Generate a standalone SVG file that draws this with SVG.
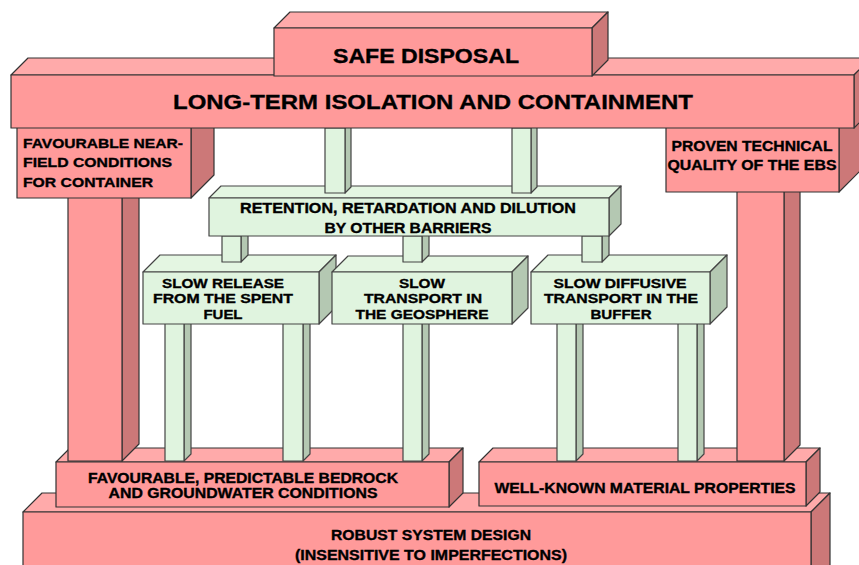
<svg xmlns="http://www.w3.org/2000/svg" width="859" height="565" viewBox="0 0 859 565">
<style>
.pf{fill:#FF9A9A;stroke:#333;stroke-width:1.2;stroke-linejoin:round}
.pt{fill:#FFAAAA;stroke:#333;stroke-width:1.2;stroke-linejoin:round}
.ps{fill:#CC7878;stroke:#333;stroke-width:1.2;stroke-linejoin:round}
.gf{fill:#E0F4DF;stroke:#444;stroke-width:1.2;stroke-linejoin:round}
.gt{fill:#E4F6E2;stroke:#444;stroke-width:1.2;stroke-linejoin:round}
.gs{fill:#B4C8B2;stroke:#444;stroke-width:1.2;stroke-linejoin:round}
text{font-family:"Liberation Sans",Arial,sans-serif;font-weight:bold;fill:#000;stroke:#000;stroke-width:0.35}
.c{text-anchor:middle}
</style>
<rect width="859" height="565" fill="#fff"/>

<g id="robust">
<polygon class="pt" points="23,512 42,493 830,493 811,512"/>
<polygon class="ps" points="811,512 830,493 830,580 811,599"/>
<rect class="pf" x="23" y="512" width="788" height="60"/>
<text class="c" x="431" y="540" font-size="15" textLength="200" lengthAdjust="spacingAndGlyphs">ROBUST SYSTEM DESIGN</text>
<text class="c" x="431" y="560" font-size="15" textLength="272" lengthAdjust="spacingAndGlyphs">(INSENSITIVE TO IMPERFECTIONS)</text>
</g>

<g id="bedrock">
<polygon class="pt" points="56,462 70,448 463,448 449,462"/>
<polygon class="ps" points="449,462 463,448 463,493 449,507"/>
<rect class="pf" x="56" y="462" width="393" height="45"/>
<text class="c" x="243" y="483" font-size="14" textLength="310" lengthAdjust="spacingAndGlyphs">FAVOURABLE, PREDICTABLE BEDROCK</text>
<text class="c" x="243" y="498" font-size="14" textLength="269" lengthAdjust="spacingAndGlyphs">AND GROUNDWATER CONDITIONS</text>
</g>

<g id="wellknown">
<polygon class="pt" points="479,462 493,448 820,448 806,462"/>
<polygon class="ps" points="806,462 820,448 820,492 806,506"/>
<rect class="pf" x="479" y="462" width="327" height="44"/>
<text class="c" x="645" y="493" font-size="15" textLength="301" lengthAdjust="spacingAndGlyphs">WELL-KNOWN MATERIAL PROPERTIES</text>
</g>

<g id="connectors">
<polygon class="ps" points="122,190 139,173 139,444 122,461"/>
<rect class="pf" x="68" y="190" width="54" height="271"/>
<polygon class="ps" points="784,185 800,169 800,445 784,461"/>
<rect class="pf" x="737" y="185" width="47" height="276"/>
<polygon class="gs" points="184,320 191,313 191,454 184,461"/>
<rect class="gf" x="165" y="320" width="19" height="141"/>
<polygon class="gs" points="303,320 310,313 310,454 303,461"/>
<rect class="gf" x="283" y="320" width="20" height="141"/>
<polygon class="gs" points="422,320 429,313 429,454 422,461"/>
<rect class="gf" x="403" y="320" width="19" height="141"/>
<polygon class="gs" points="576,320 583,313 583,454 576,461"/>
<rect class="gf" x="557" y="320" width="19" height="141"/>
<polygon class="gs" points="697,320 704,313 704,454 697,461"/>
<rect class="gf" x="678" y="320" width="19" height="141"/>
</g>

<g id="nearfield">
<polygon class="ps" points="191,110 214,87 214,175 191,198"/>
<rect class="pf" x="17" y="110" width="174" height="88"/>
<text x="23" y="148" font-size="13.5" textLength="160" lengthAdjust="spacingAndGlyphs">FAVOURABLE NEAR-</text>
<text x="23" y="167" font-size="13.5" textLength="149" lengthAdjust="spacingAndGlyphs">FIELD CONDITIONS</text>
<text x="23" y="187" font-size="13.5" textLength="130" lengthAdjust="spacingAndGlyphs">FOR CONTAINER</text>
</g>

<g id="proven">
<polygon class="ps" points="839,110 860,89 860,171 839,192"/>
<rect class="pf" x="666" y="110" width="173" height="82"/>
<text class="c" x="752" y="151" font-size="14" textLength="161" lengthAdjust="spacingAndGlyphs">PROVEN TECHNICAL</text>
<text class="c" x="752" y="170" font-size="14" textLength="169" lengthAdjust="spacingAndGlyphs">QUALITY OF THE EBS</text>
</g>

<g id="slowrelease">
<polygon class="gt" points="143,272 160,255 336,255 319,272"/>
<polygon class="gs" points="319,272 336,255 336,307 319,324"/>
<rect class="gf" x="143" y="272" width="176" height="52"/>
<text class="c" x="223" y="288" font-size="13.5" textLength="122" lengthAdjust="spacingAndGlyphs">SLOW RELEASE</text>
<text class="c" x="223" y="303" font-size="13.5" textLength="140" lengthAdjust="spacingAndGlyphs">FROM THE SPENT</text>
<text class="c" x="223" y="319" font-size="13.5" textLength="39" lengthAdjust="spacingAndGlyphs">FUEL</text>
</g>

<g id="slowtransport">
<polygon class="gt" points="332,272 348,256 528,256 512,272"/>
<polygon class="gs" points="512,272 528,256 528,308 512,324"/>
<rect class="gf" x="332" y="272" width="180" height="52"/>
<text class="c" x="422" y="288" font-size="13.5" textLength="46" lengthAdjust="spacingAndGlyphs">SLOW</text>
<text class="c" x="423" y="303" font-size="13.5" textLength="118" lengthAdjust="spacingAndGlyphs">TRANSPORT IN</text>
<text class="c" x="422" y="319" font-size="13.5" textLength="133" lengthAdjust="spacingAndGlyphs">THE GEOSPHERE</text>
</g>

<g id="slowdiffusive">
<polygon class="gt" points="531,272 548,255 727,255 710,272"/>
<polygon class="gs" points="710,272 727,255 727,307 710,324"/>
<rect class="gf" x="531" y="272" width="179" height="52"/>
<text class="c" x="620" y="288" font-size="13.5" textLength="133" lengthAdjust="spacingAndGlyphs">SLOW DIFFUSIVE</text>
<text class="c" x="621" y="303" font-size="13.5" textLength="154" lengthAdjust="spacingAndGlyphs">TRANSPORT IN THE</text>
<text class="c" x="621" y="319" font-size="13.5" textLength="61" lengthAdjust="spacingAndGlyphs">BUFFER</text>
</g>

<g id="connectors-short">
<polygon class="gs" points="241,236 248,229 248,255 241,262"/>
<rect class="gf" x="222" y="236" width="19" height="26"/>
<polygon class="gs" points="422,236 429,229 429,255 422,262"/>
<rect class="gf" x="403" y="236" width="19" height="26"/>
<polygon class="gs" points="602,236 609,229 609,255 602,262"/>
<rect class="gf" x="582" y="236" width="20" height="26"/>
</g>

<g id="retention">
<polygon class="gt" points="209,198 221,186 621,186 609,198"/>
<polygon class="gs" points="609,198 621,186 621,224 609,236"/>
<rect class="gf" x="209" y="198" width="400" height="38"/>
<text class="c" x="408" y="213" font-size="14" textLength="336" lengthAdjust="spacingAndGlyphs">RETENTION, RETARDATION AND DILUTION</text>
<text class="c" x="408" y="233" font-size="14" textLength="167" lengthAdjust="spacingAndGlyphs">BY OTHER BARRIERS</text>
</g>

<g id="connectors-upper">
<polygon class="gs" points="345,128 351,122 351,187 345,193"/>
<rect class="gf" x="325" y="128" width="20" height="65"/>
<polygon class="gs" points="531,128 537,122 537,187 531,193"/>
<rect class="gf" x="512" y="128" width="19" height="65"/>
</g>

<g id="longterm">
<polygon class="pt" points="11,75 28,58 871,58 854,75"/>
<polygon class="ps" points="854,75 871,58 871,111 854,128"/>
<rect class="pf" x="11" y="75" width="843" height="53"/>
<text class="c" x="433" y="109" font-size="21" textLength="520" lengthAdjust="spacingAndGlyphs">LONG-TERM ISOLATION AND CONTAINMENT</text>
</g>

<g id="safedisposal">
<polygon class="pt" points="274,28 290,12 608,12 592,28"/>
<polygon class="ps" points="592,28 608,12 608,60 592,76"/>
<rect class="pf" x="274" y="28" width="318" height="48"/>
<text class="c" x="426" y="63" font-size="21" textLength="186" lengthAdjust="spacingAndGlyphs">SAFE DISPOSAL</text>
</g>
</svg>
